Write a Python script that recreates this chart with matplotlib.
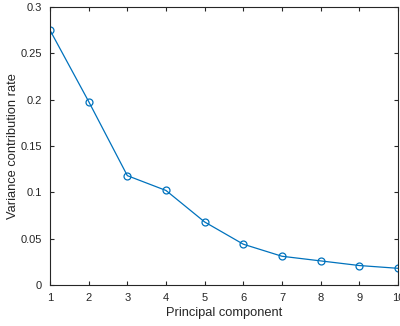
import matplotlib
matplotlib.use("Agg")
import matplotlib.pyplot as plt

components = [1, 2, 3, 4, 5, 6, 7, 8, 9, 10]
variance_rate = [0.275, 0.198, 0.118, 0.102, 0.068, 0.044, 0.031, 0.026, 0.021, 0.018]
x_ticks = [1, 2, 3, 4, 5, 6, 7, 8, 9, 10]
y_ticks = [0, 0.05, 0.1, 0.15, 0.2, 0.25, 0.3]
y_tick_labels = ["0", "0.05", "0.1", "0.15", "0.2", "0.25", "0.3"]

plt.rcParams['font.family'] = ['Liberation Sans', 'DejaVu Sans']

fig = plt.figure(figsize=(4.0, 3.26), dpi=100)
ax = fig.add_axes([0.125, 0.1258, 0.870, 0.8527])
ax.plot(components, variance_rate, color='#0072BD', linewidth=0.9,
        marker='o', markersize=5, markerfacecolor='none', markeredgecolor='#0072BD',
        markeredgewidth=0.9)
ax.set_xlim(1, 10)
ax.set_ylim(0, 0.3)
ax.set_xticks(x_ticks)
ax.set_yticks(y_ticks)
ax.set_yticklabels(y_tick_labels)
ax.tick_params(direction='in', top=True, right=True, length=3, width=0.8,
               labelsize=8, colors='#262626')
ax.tick_params(axis='x', pad=6)
ax.tick_params(axis='y', pad=6)
for s in ax.spines.values():
    s.set_linewidth(0.8)
    s.set_color('#262626')
ax.set_xlabel('Principal component', fontsize=9.3, color='#262626', labelpad=3)
ax.set_ylabel('Variance contribution rate', fontsize=9.3, color='#262626', labelpad=1)
fig.savefig('out.png', dpi=100)
